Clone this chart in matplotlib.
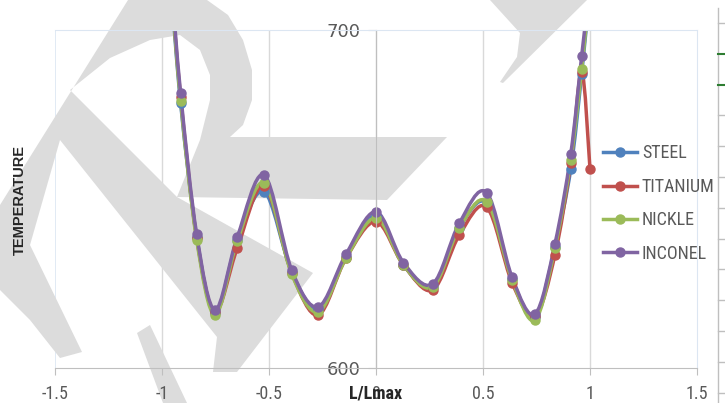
import matplotlib
matplotlib.use("Agg")
import matplotlib.pyplot as plt
from matplotlib import font_manager
from matplotlib.path import Path
from matplotlib.patches import PathPatch, Polygon
from matplotlib.lines import Line2D

# position along the part (L/Lmax); the first two and the last points sit above 700
x_pos = [-1.0, -0.96, -0.913, -0.838, -0.752, -0.648, -0.523, -0.394, -0.270, -0.140, 0.0,
         0.128, 0.265, 0.389, 0.517, 0.636, 0.743, 0.836, 0.910, 0.961, 1.0]

steel = [742, 714, 678.3, 638.8, 616.3, 637.9, 652.2, 628.4, 617.5, 632.8, 645.0,
         630.5, 624.0, 641.4, 648.8, 626.3, 615.1, 635.8, 658.8, 687.0, 712]
titanium = [743, 715, 680.2, 638.5, 616.6, 635.5, 653.8, 628.1, 615.7, 632.5, 643.3,
            630.5, 623.1, 639.3, 647.6, 625.2, 615.4, 633.4, 660.7, 687.7, 658.9]
nickle = [743, 715, 679.1, 637.9, 615.7, 637.6, 654.7, 627.8, 616.6, 632.5, 644.4,
          630.5, 624.0, 641.4, 649.2, 626.0, 614.2, 635.5, 661.5, 688.4, 713]
inconel = [745, 717, 681.3, 639.6, 617.2, 638.8, 657.1, 629.0, 618.1, 633.7, 646.2,
           631.2, 624.9, 642.8, 651.9, 626.8, 616.0, 636.7, 663.3, 692.3, 714]

series_names = ["STEEL", "TITANIUM", "NICKLE", "INCONEL"]
series_colors = ["#4F81BD", "#C0504D", "#9BBB59", "#8064A2"]

x_ticks = [-1.5, -1, -0.5, 0, 0.5, 1, 1.5]
x_tick_labels = ["-1.5", "-1", "-0.5", "0", "0.5", "1", "1.5"]
y_ticks = [600, 700]

W, H = 725, 403


def pick_font(names):
    for n in names:
        try:
            font_manager.findfont(n, fallback_to_default=False)
            return n
        except ValueError:
            continue
    return None


narrow = pick_font(["Liberation Sans Narrow", "Roboto Condensed", "DejaVu Sans Condensed"])
if narrow:
    NARROW, FS = [narrow, "DejaVu Sans"], 13
else:
    NARROW, FS = ["Roboto", "DejaVu Sans"], 12


def smooth_path(xs, ys):
    # excel style smoothed line: cubic bezier through every point
    verts = [(xs[0], ys[0])]
    codes = [Path.MOVETO]
    n = len(xs)
    for i in range(n - 1):
        x0, y0 = (xs[i - 1], ys[i - 1]) if i > 0 else (xs[i], ys[i])
        x3, y3 = (xs[i + 2], ys[i + 2]) if i + 2 < n else (xs[i + 1], ys[i + 1])
        c1 = (xs[i] + (xs[i + 1] - x0) / 6, ys[i] + (ys[i + 1] - y0) / 6)
        c2 = (xs[i + 1] - (x3 - xs[i]) / 6, ys[i + 1] - (y3 - ys[i]) / 6)
        verts += [c1, c2, (xs[i + 1], ys[i + 1])]
        codes += [Path.CURVE4] * 3
    return Path(verts, codes)


def fig_pts(pts):
    return [(px / W, 1 - py / H) for px, py in pts]


fig = plt.figure(figsize=(7.25, 4.03), dpi=100)
ax = fig.add_axes([55 / W, 35 / H, 642 / W, 338 / H])

# watermark shapes (pixel positions, y from top)
wm_color = "#DCDCDC"
watermark = [
    [(387, 200), (177, 197), (200, 140), (210, 100), (210, 75), (200, 50), (180, 35),
     (150, 40), (110, 58), (70, 90), (177, 197), (313, 273), (237, 372), (213, 372),
     (217, 337), (60, 140), (30, 245), (82, 352), (60, 358), (30, 320), (0, 290),
     (0, 205), (128, 0), (207, 0), (228, 15), (243, 40), (252, 70),
     (252, 100), (243, 125), (230, 137), (447, 137)],
    [(137, 333), (150, 325), (187, 403), (163, 403)],
    [(490, 0), (587, 0), (503, 83), (500, 82), (517, 57), (520, 33)],
]
for shape in watermark:
    ax.add_patch(Polygon(fig_pts(shape), closed=True, transform=fig.transFigure,
                         facecolor=wm_color, edgecolor="none", zorder=0.8, clip_on=False))

# vertical gridlines (under the watermark)
for gx in x_ticks[1:-1]:
    ax.axvline(gx, color="#D9D9D9", linewidth=1, zorder=0.5)
ax.axvline(-1.5, color="#DCE6F2", linewidth=1.2, zorder=0.6)

for vals, name, col in zip([steel, titanium, nickle, inconel], series_names, series_colors):
    ax.add_patch(PathPatch(smooth_path(x_pos, vals), fill=False, edgecolor=col,
                           linewidth=2.5, zorder=2, capstyle="round", joinstyle="round"))
    ax.plot(x_pos, vals, linestyle="none", marker="o", markersize=6.5,
            color=col, zorder=2.1)

ax.set_xlim(-1.5, 1.5)
ax.set_ylim(600, 700)
ax.set_xticks(x_ticks)
ax.set_xticklabels(x_tick_labels, family=NARROW)
ax.set_yticks(y_ticks)
ax.set_yticklabels([str(v) for v in y_ticks], family=NARROW)

ax.spines["left"].set_position(("data", 0))
ax.spines["left"].set_color("#BFBFBF")
ax.spines["bottom"].set_color("#BFBFBF")
ax.spines["top"].set_color("#DCE6F2")
ax.spines["right"].set_color("#DCE6F2")

ax.tick_params(axis="x", direction="out", length=5, color="#BFBFBF",
               labelsize=FS, labelcolor="#595959", pad=7)
ax.tick_params(axis="y", direction="out", length=6, color="#BFBFBF",
               labelsize=FS, labelcolor="#595959", pad=5)

fig.text(376 / W, 1 - 393 / H, "L/Lmax", ha="center", va="center",
         fontsize=FS, fontweight="bold", family=NARROW, color="#262626")
fig.text(20 / W, 1 - 200 / H, "TEMPERATURE", ha="center", va="center", rotation=90,
         fontsize=10.5, fontweight="bold", family=["Liberation Sans", "DejaVu Sans"],
         color="#262626")

handles = [Line2D([], [], color=c, linewidth=2.5, marker="o", markersize=6.5)
           for c in series_colors]
ax.legend(handles, series_names, loc="center left", bbox_to_anchor=(603 / W, 1 - 203.5 / H),
          bbox_transform=fig.transFigure, frameon=False, borderpad=0, borderaxespad=0,
          handlelength=1.9 * 13 / FS, handletextpad=0.25, labelspacing=0.75 * 13 / FS + 0.1,
          prop={"family": NARROW, "size": FS}, labelcolor="#595959")

# edge of the neighbouring chart on the right
fig.add_artist(Line2D([718 / W] * 2, [0, 1 - 8 / H], transform=fig.transFigure,
                      color="#BFBFBF", linewidth=1))
for k in range(13):
    ty = 1 - (23 + 30.8 * k) / H
    tc = "#2E7D32" if k in (1, 2) else "#BFBFBF"
    fig.add_artist(Line2D([718 / W, 725 / W], [ty, ty], transform=fig.transFigure,
                          color=tc, linewidth=1.5 if k in (1, 2) else 1))

fig.savefig("out.png", dpi=100)
